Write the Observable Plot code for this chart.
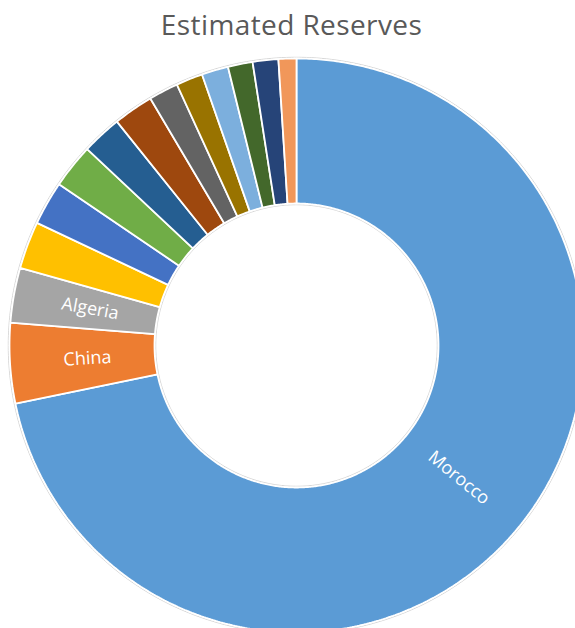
<!DOCTYPE html>
<html>
<head>
<meta charset="utf-8">
<script src="https://cdn.jsdelivr.net/npm/d3@7"></script>
<script src="https://cdn.jsdelivr.net/npm/@observablehq/plot@0.6"></script>
<style>
  html, body { margin: 0; padding: 0; background: #fff; overflow: hidden; width: 575px; height: 628px; }
  #title { height: 44px; line-height: 44px; padding-top: 2px; font-family: "Open Sans", sans-serif; font-size: 28px; letter-spacing: 0.4px; color: #595959; text-align: center; padding-left: 8px; box-sizing: border-box; width: 575px; }
</style>
</head>
<body>
<div id="title">Estimated Reserves</div>
<div id="chart"></div>
<script>
// Data (estimated reserves, slices in clockwise order from 12 o'clock)
const names = ["Morocco", "China", "Algeria", "Syria", "South Africa", "Jordan", "Russia", "United States", "Australia", "Peru", "Saudi Arabia", "Egypt", "Iraq", "Brazil"];
const values = [50000, 3150, 2150, 1860, 1720, 1740, 1570, 1570, 1160, 1045, 1045, 970, 1005, 700];
const colors = ["#5B9BD5", "#ED7D31", "#A5A5A5", "#FFC000", "#4472C4", "#70AD47", "#255E91", "#9E480E", "#636363", "#997300", "#7CAFDD", "#43682B", "#264478", "#F1975A"];
const labelled = ["Morocco", "China", "Algeria"];

const outerPx = 287, innerPx = 142;
const inner = innerPx / outerPx;
const total = d3.sum(values);

// build slice polygons
const polys = [];
const labels = [];
let acc = 0;
names.forEach((name, i) => {
  const a0 = acc / total * 360;
  acc += values[i];
  const a1 = acc / total * 360;
  const n = Math.max(2, Math.ceil((a1 - a0) / 0.5));
  const pts = [];
  for (let k = 0; k <= n; k++) {
    const t = (a0 + (a1 - a0) * k / n) * Math.PI / 180;
    pts.push({name, x: Math.sin(t), y: Math.cos(t)});
  }
  for (let k = n; k >= 0; k--) {
    const t = (a0 + (a1 - a0) * k / n) * Math.PI / 180;
    pts.push({name, x: inner * Math.sin(t), y: inner * Math.cos(t)});
  }
  polys.push(...pts);
  if (labelled.includes(name)) {
    const mid = (a0 + a1) / 2;
    const tm = mid * Math.PI / 180;
    const rr = 0.73;
    let rot = mid - 90;
    if (mid > 180) rot -= 180;
    labels.push({name, x: rr * Math.sin(tm), y: rr * Math.cos(tm), rot});
  }
});

function circle(rad) {
  const out = [];
  for (let k = 0; k < 720; k++) {
    const t = k / 720 * 2 * Math.PI;
    out.push({x: rad * Math.sin(t), y: rad * Math.cos(t)});
  }
  return out;
}

const cx = 296, cy = 345 - 44;
const chart = Plot.plot({
  width: 575,
  height: 584,
  style: {overflow: "hidden", background: "white"},
  x: {domain: [-1, 1], range: [cx - outerPx, cx + outerPx], axis: null},
  y: {domain: [-1, 1], range: [cy + outerPx, cy - outerPx], axis: null},
  color: {domain: names, range: colors},
  marks: [
    Plot.line(circle(1 + 1.2 / outerPx), {x: "x", y: "y", stroke: "#d4d4d4", strokeWidth: 1, curve: "linear-closed"}),
    Plot.line(circle(inner - 1.2 / outerPx), {x: "x", y: "y", stroke: "#d4d4d4", strokeWidth: 1, curve: "linear-closed"}),
    Plot.line(polys, {x: "x", y: "y", z: "name", fill: "name", stroke: "white", strokeWidth: 1.8, strokeLinejoin: "miter", curve: "linear-closed"}),
    Plot.text(labels, {x: "x", y: "y", text: "name", rotate: d => d.rot, fill: "white", fontSize: 18, fontFamily: "Open Sans"})
  ]
});
document.getElementById("chart").appendChild(chart);
</script>
</body>
</html>
